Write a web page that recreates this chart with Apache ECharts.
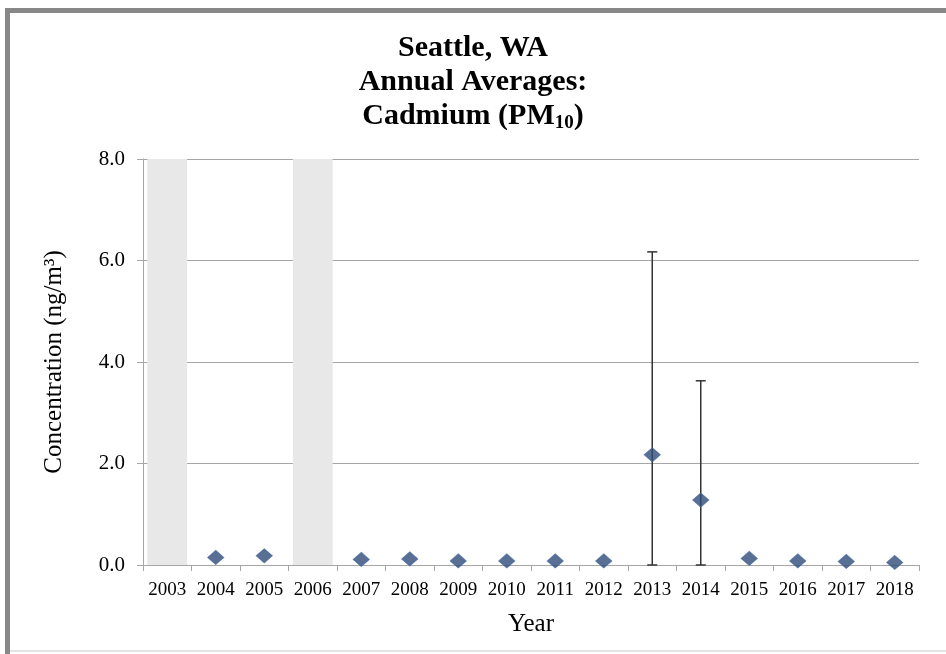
<!DOCTYPE html>
<html>
<head>
<meta charset="utf-8">
<script src="https://cdn.jsdelivr.net/npm/echarts@6/dist/echarts.min.js"></script>
<style>
  html, body { margin: 0; padding: 0; background: #fff; }
  #chart { width: 946px; height: 654px; }
</style>
</head>
<body>
<div id="chart"></div>
<script>
// data
const years = ['2003', '2004', '2005', '2006', '2007', '2008', '2009', '2010',
  '2011', '2012', '2013', '2014', '2015', '2016', '2017', '2018']
// annual averages (ng/m3), null = no data
const averages = [null, 0.15, 0.18, null, 0.11, 0.12, 0.08, 0.08,
  0.08, 0.08, 2.17, 1.28, 0.13, 0.08, 0.07, 0.05]
// years without a valid average are shaded over the full axis height
const shaded = [8, null, null, 8, null, null, null, null,
  null, null, null, null, null, null, null, null]
// error bar ends
const errLow = [null, null, null, null, null, null, null, null,
  null, null, 0, 0, null, null, null, null]
const errHigh = [null, null, null, null, null, null, null, null,
  null, null, 6.17, 3.63, null, null, null, null]
const yTicks = [0, 2, 4, 6, 8]

const serif = '"Liberation Serif", "Times New Roman", serif'
const gridColor = '#a6a6a6'

const errData = years
  .map((y, i) => (errHigh[i] != null ? [i, errLow[i], errHigh[i]] : null))
  .filter(d => d)

const chart = echarts.init(document.getElementById('chart'))

chart.setOption({
  animation: false,
  backgroundColor: '#fff',
  title: {
    left: 'center',
    top: 31,
    padding: [0, 0, 0, 16],
    text: 'Seattle, WA\nAnnual Averages:\nCadmium (PM{sub|10}{t|)}',
    textStyle: {
      fontFamily: serif,
      fontWeight: 'bold',
      fontSize: 30,
      lineHeight: 34,
      color: '#000',
      rich: {
        sub: { fontFamily: serif, fontWeight: 'bold', fontSize: 19, lineHeight: 16, verticalAlign: 'bottom', color: '#000' },
        t: { fontFamily: serif, fontWeight: 'bold', fontSize: 30, lineHeight: 34, color: '#000' },
      },
    },
  },
  graphic: [
    { type: 'rect', silent: true, shape: { x: 5, y: 8, width: 941, height: 5 }, style: { fill: '#888' } },
    { type: 'rect', silent: true, shape: { x: 5, y: 8, width: 5, height: 646 }, style: { fill: '#888' } },
    { type: 'rect', silent: true, shape: { x: 10, y: 650, width: 936, height: 2 }, style: { fill: '#e4e4e4' } },
  ],
  grid: { left: 143, right: 27, top: 159, bottom: 89 },
  xAxis: {
    type: 'category',
    data: years,
    name: 'Year',
    nameLocation: 'middle',
    nameGap: 47,
    nameTextStyle: { fontFamily: serif, fontSize: 25, color: '#000' },
    axisLine: { lineStyle: { color: gridColor, width: 1 } },
    axisTick: { show: true, length: 6, lineStyle: { color: gridColor } },
    axisLabel: { fontFamily: serif, fontSize: 19, color: '#000', margin: 16, interval: 0 },
    splitLine: { show: false },
  },
  yAxis: {
    type: 'value',
    min: yTicks[0],
    max: yTicks[yTicks.length - 1],
    interval: 2,
    name: 'Concentration (ng/m³)',
    nameLocation: 'middle',
    nameGap: 76,
    nameTextStyle: { fontFamily: serif, fontSize: 25, color: '#000' },
    axisLine: { show: true, lineStyle: { color: gridColor, width: 1 } },
    axisTick: { show: true, length: 6, lineStyle: { color: gridColor } },
    axisLabel: { fontFamily: serif, fontSize: 21, color: '#000', margin: 18, formatter: v => v.toFixed(1) },
    splitLine: { lineStyle: { color: gridColor, width: 1 } },
  },
  series: [
    {
      name: 'No data',
      type: 'bar',
      data: shaded,
      barWidth: '82%',
      silent: true,
      itemStyle: { color: '#e8e8e8' },
      z: 1,
    },
    {
      name: 'Error',
      type: 'custom',
      data: errData,
      encode: { x: 0, y: [1, 2] },
      z: 3,
      renderItem(params, api) {
        const lo = api.coord([api.value(0), api.value(1)])
        const hi = api.coord([api.value(0), api.value(2)])
        const w = 5
        const style = { stroke: '#333', lineWidth: 1.5 }
        return {
          type: 'group',
          children: [
            { type: 'line', shape: { x1: lo[0], y1: lo[1], x2: hi[0], y2: hi[1] }, style },
            { type: 'line', shape: { x1: hi[0] - w, y1: hi[1], x2: hi[0] + w, y2: hi[1] }, style },
            { type: 'line', shape: { x1: lo[0] - w, y1: lo[1], x2: lo[0] + w, y2: lo[1] }, style },
          ],
        }
      },
    },
    {
      name: 'Annual average',
      type: 'scatter',
      data: averages,
      symbol: 'diamond',
      symbolSize: [16, 14],
      itemStyle: { color: '#2f4b78', borderColor: '#4a6a9c', borderWidth: 1 },
      z: 4,
    },
  ],
})
</script>
</body>
</html>
